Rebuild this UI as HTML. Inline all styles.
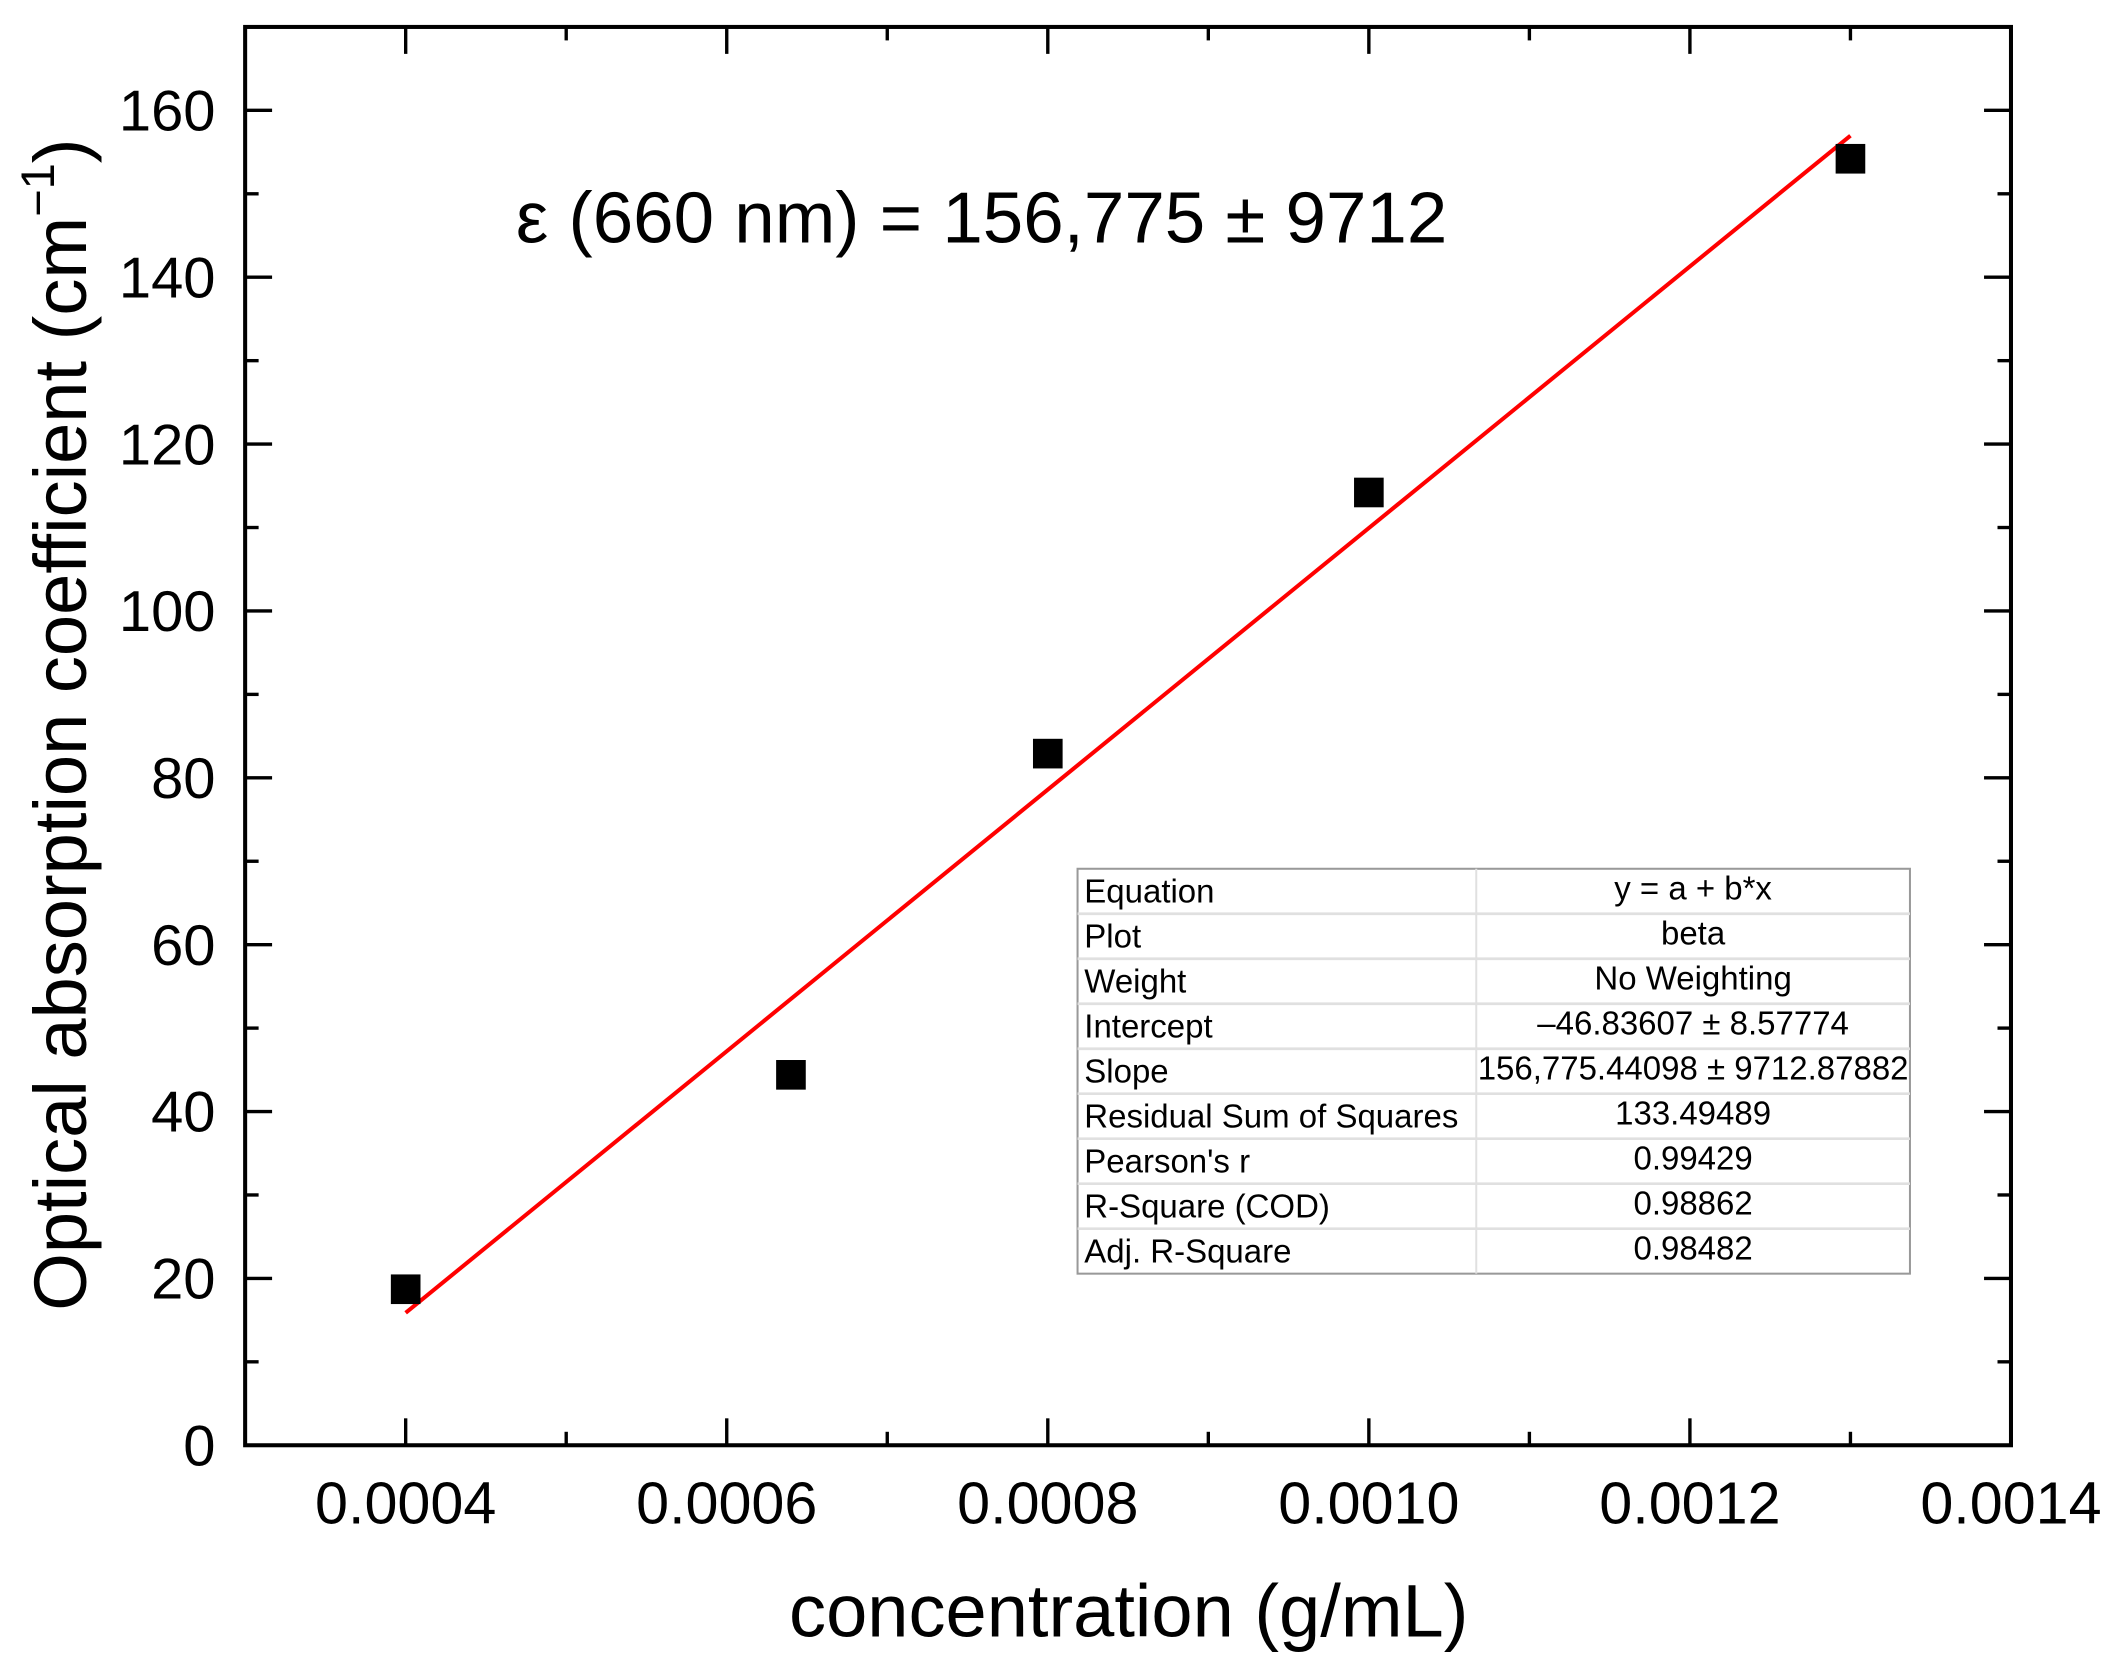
<!DOCTYPE html>
<html><head><meta charset="utf-8"><style>
html,body{margin:0;padding:0;background:#fff}
svg{display:block}
text{font-family:"Liberation Sans",Arial,sans-serif;fill:#000}
</style></head><body>
<svg id="chart" width="2112" height="1664" viewBox="0 0 1568 1235.4" preserveAspectRatio="none" xmlns="http://www.w3.org/2000/svg">
<g id="axes"></g>
<g id="marks"></g>
<text x="383" y="180" font-size="54">ε (660 nm) = 156,775 ± 9712</text>
<text x="838" y="1215" font-size="55" text-anchor="middle">concentration (g/mL)</text>
<text transform="translate(64,538) rotate(-90)" font-size="55" text-anchor="middle">Optical absorption coefficient (cm<tspan font-size="35" dy="-24">−1</tspan><tspan dy="24">)</tspan></text>
<g id="table"></g>
</svg>
<script>
const xTicks = [0.0004, 0.0006, 0.0008, 0.0010, 0.0012, 0.0014];
const xTickLabels = ["0.0004", "0.0006", "0.0008", "0.0010", "0.0012", "0.0014"];
const yTicks = [0, 20, 40, 60, 80, 100, 120, 140, 160];
const yTickLabels = ["0", "20", "40", "60", "80", "100", "120", "140", "160"];
const concentration = [0.0004, 0.00064, 0.0008, 0.0010, 0.0013];
const absorption = [18.7, 44.4, 82.9, 114.2, 154.2];
const fitIntercept = -46.83607;
const fitSlope = 156775.44098;
const fitRange = [0.0004, 0.0013];
const tableLabels = ["Equation","Plot","Weight","Intercept","Slope","Residual Sum of Squares","Pearson's r","R-Square (COD)","Adj. R-Square"];
const tableValues = ["y = a + b*x","beta","No Weighting","–46.83607 ± 8.57774","156,775.44098 ± 9712.87882","133.49489","0.99429","0.98862","0.98482"];

const NS = "http://www.w3.org/2000/svg";
const L = 182, R = 1493, T = 20, B = 1073;
const xMin = 0.0003, xMax = 0.0014, yMin = 0, yMax = 170;
const sx = v => L + (v - xMin) / (xMax - xMin) * (R - L);
const sy = v => B - (v - yMin) / (yMax - yMin) * (B - T);
function mk(tag, attrs, parent){const e=document.createElementNS(NS,tag);for(const k in attrs)e.setAttribute(k,attrs[k]);parent.appendChild(e);return e;}
const axes = document.getElementById('axes');
const marks = document.getElementById('marks');

let fr = mk('rect',{x:L,y:T,width:R-L,height:B-T,fill:'none',stroke:'#000','stroke-width':3},axes);



xTicks.forEach((v,i)=>{
  const x = sx(v);
  let t = mk('line',{x1:x,x2:x,y1:B,y2:B-20,stroke:'#000','stroke-width':2.5},axes);
  
  
  let t2 = mk('line',{x1:x,x2:x,y1:T,y2:T+20,stroke:'#000','stroke-width':2.5},axes);
  
  
  const lb = mk('text',{x:x,y:B+58,'font-size':44,'text-anchor':'middle'},axes);
  lb.textContent = xTickLabels[i];
  
  
});
for(let i=0;i<xTicks.length;i++){
  const v = xTicks[i]-0.0001;
  if(v<xMin) continue;
  const x=sx(v);
  let m = mk('line',{x1:x,x2:x,y1:B,y2:B-10,stroke:'#000','stroke-width':2.5},axes);
  
  
  let m2 = mk('line',{x1:x,x2:x,y1:T,y2:T+10,stroke:'#000','stroke-width':2.5},axes);
  
  
}
yTicks.forEach((v,i)=>{
  const y = sy(v);
  let t = mk('line',{x1:L,x2:L+20,y1:y,y2:y,stroke:'#000','stroke-width':2.5},axes);
  
  
  let t2 = mk('line',{x1:R,x2:R-20,y1:y,y2:y,stroke:'#000','stroke-width':2.5},axes);
  
  
  const lb = mk('text',{x:L-22,y:y+15,'font-size':43,'text-anchor':'end'},axes);
  lb.textContent = yTickLabels[i];
  
  
  const mv = v+10;
  if(mv<yMax){
    const my=sy(mv);
    let m = mk('line',{x1:L,x2:L+10,y1:my,y2:my,stroke:'#000','stroke-width':2.5},axes);
    
    
    let m2 = mk('line',{x1:R,x2:R-10,y1:my,y2:my,stroke:'#000','stroke-width':2.5},axes);
    
    
  }
});

const fl = mk('line',{x1:sx(fitRange[0]),y1:sy(fitIntercept+fitSlope*fitRange[0]),x2:sx(fitRange[1]),y2:sy(fitIntercept+fitSlope*fitRange[1]),stroke:'#ff0000','stroke-width':3},marks);



concentration.forEach((c,i)=>{
  const s=22;
  const p = mk('rect',{x:sx(c)-s/2,y:sy(absorption[i])-s/2,width:s,height:s,fill:'#000'},marks);
  
  
});

const tb = document.getElementById('table');
const tx=800, ty=645, tw=618, rh=33.4, cx=1096;
const bg = mk('rect',{x:tx,y:ty,width:tw,height:rh*tableLabels.length,fill:'#fff',stroke:'#999','stroke-width':1.5},tb);


const cl = mk('line',{x1:cx,x2:cx,y1:ty,y2:ty+rh*tableLabels.length,stroke:'#e0e0e0','stroke-width':1.5},tb);


tableLabels.forEach((lab,i)=>{
  const y=ty+i*rh;
  if(i>0){
    const rl = mk('line',{x1:tx,x2:tx+tw,y1:y,y2:y,stroke:'#e0e0e0','stroke-width':2},tb);
    
    
  }
  const a = mk('text',{x:tx+5,y:y+25,'font-size':24.5},tb);
  a.textContent=lab;
  
  
  const b = mk('text',{x:(cx+tx+tw)/2,y:y+23,'font-size':24.5,'text-anchor':'middle'},tb);
  b.textContent=tableValues[i];
  
  
});
</script>
</body></html>
